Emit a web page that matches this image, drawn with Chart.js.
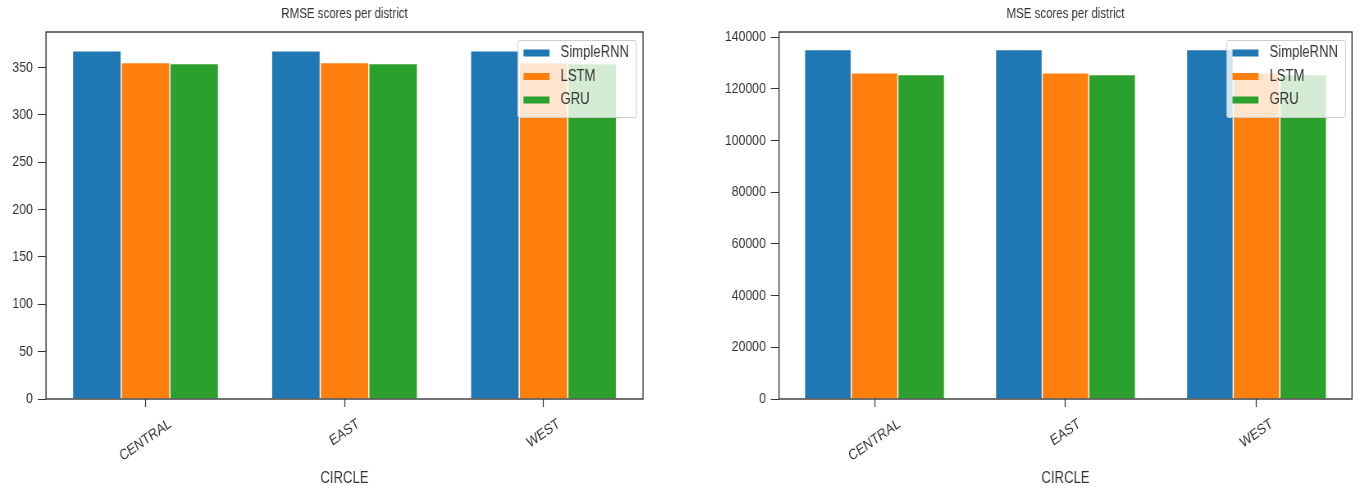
<!DOCTYPE html>
<html>
<head>
<meta charset="utf-8">
<script src="https://cdn.jsdelivr.net/npm/chart.js@4.4.1/dist/chart.umd.min.js"></script>
<style>
  html, body { margin: 0; padding: 0; background: #fff; }
  body { width: 1363px; height: 490px; position: relative; overflow: hidden; }
  /* figures are drawn wide and squeezed horizontally, giving the narrow lettering */
  canvas { position: absolute; top: 0; transform-origin: 0 0; transform: scaleX(0.82); }
  #rmseChart { left: 0; }
  #mseChart { left: 690px; }
</style>
</head>
<body>
<canvas id="rmseChart" width="842" height="490"></canvas>
<canvas id="mseChart" width="821" height="490"></canvas>
<script>
const SX = 0.82;

const districts = ['CENTRAL', 'EAST', 'WEST'];
const models = ['SimpleRNN', 'LSTM', 'GRU'];
const modelColors = ['#1f77b4', '#ff7f0e', '#2ca02c'];

// scores per district, one array per model
const rmseSimpleRNN = [367.7, 367.7, 367.7];
const rmseLSTM = [355.2, 355.2, 355.2];
const rmseGRU = [354.3, 354.3, 354.3];

const mseSimpleRNN = [135203, 135203, 135203];
const mseLSTM = [126167, 126167, 126167];
const mseGRU = [125529, 125529, 125529];

const rmseTicks = [0, 50, 100, 150, 200, 250, 300, 350];
const mseTicks = [0, 20000, 40000, 60000, 80000, 100000, 120000, 140000];

const FONT = "'Liberation Sans', Arial, sans-serif";
const INK = '#333333';

// box around the plot + title + rotated district names
const framePlugin = {
  id: 'framePlugin',
  afterDatasetsDraw(chart) {
    const { ctx, chartArea: a } = chart;
    ctx.save();
    ctx.strokeStyle = '#262626';
    ctx.lineWidth = 1.3;
    ctx.strokeRect(a.left, a.top, a.right - a.left, a.bottom - a.top);
    ctx.restore();
  },
  afterDraw(chart, args, opts) {
    const { ctx, chartArea: a } = chart;
    const xScale = chart.scales.x;
    ctx.save();
    ctx.fillStyle = INK;
    ctx.textAlign = 'center';
    ctx.textBaseline = 'middle';
    ctx.font = '14px ' + FONT;
    ctx.fillText(opts.title, (a.left + a.right) / 2, 14);

    ctx.font = '15px ' + FONT;
    chart.data.labels.forEach((lab, i) => {
      const x = xScale.getPixelForTick(i);
      const w = ctx.measureText(lab).width;
      const h = 11;
      const ang = Math.PI / 6;
      const boxH = w * Math.sin(ang) + h * Math.cos(ang);
      ctx.save();
      ctx.translate(x, 418 + boxH / 2);
      ctx.rotate(-ang);
      ctx.fillText(lab, 0, 0);
      ctx.restore();
    });
    ctx.restore();
  }
};

// legend drawn inside the plot, upper right
const innerLegend = {
  id: 'innerLegend',
  afterDatasetsDraw(chart) {
    const { ctx, chartArea: a } = chart;
    const sets = chart.data.datasets;
    ctx.save();
    ctx.font = '16px ' + FONT;
    const textW = Math.max(...sets.map(d => ctx.measureText(d.label).width));
    const pad = 6 / SX, sw = 26 / SX, gap = 11 / SX;
    const w = pad + sw + gap + textW + 7 / SX;
    const h = 77;
    const x = a.right - 7 / SX - w;
    const y = a.top + 8;
    ctx.fillStyle = 'rgba(255,255,255,0.8)';
    ctx.strokeStyle = '#cccccc';
    ctx.lineWidth = 1;
    ctx.beginPath();
    ctx.roundRect(x + 0.5, y + 0.5, w, h, 2);
    ctx.fill();
    ctx.stroke();
    ctx.textBaseline = 'middle';
    ctx.textAlign = 'left';
    sets.forEach((d, i) => {
      const cy = y + 13 + i * 23.5;
      ctx.fillStyle = d.backgroundColor;
      ctx.fillRect(x + pad, cy - 3.5, sw, 7);
      ctx.fillStyle = INK;
      ctx.fillText(d.label, x + pad + sw + gap, cy);
    });
    ctx.restore();
  }
};

const buildChart = (canvasId, title, series, tickValues, yMax, axisWidth, padRight) => {
  const ctx = document.getElementById(canvasId).getContext('2d');
  return new Chart(ctx, {
    type: 'bar',
    data: {
      labels: districts,
      datasets: models.map((m, i) => ({
        label: m,
        data: series[i],
        backgroundColor: modelColors[i],
        borderColor: 'rgba(255,255,255,0.9)',
        borderWidth: 0.7,
        borderSkipped: 'start',
        categoryPercentage: 0.733,
        barPercentage: 1.0,
      })),
    },
    options: {
      responsive: false,
      animation: false,
      devicePixelRatio: 1,
      layout: { padding: { top: 32, right: padRight, bottom: 0, left: 0 } },
      plugins: {
        legend: { display: false },
        tooltip: { enabled: false },
        framePlugin: { title },
      },
      scales: {
        x: {
          grid: { display: true, drawOnChartArea: false, drawTicks: true, tickLength: 8, tickColor: INK, tickWidth: 1.2, offset: false },
          border: { display: false },
          ticks: { display: false },
          title: {
            display: true,
            text: 'CIRCLE',
            color: INK,
            font: { family: FONT, size: 16 },
            padding: { top: 0, bottom: 2 },
          },
          afterFit: (scale) => { scale.height = 91; },
        },
        y: {
          min: 0,
          max: yMax,
          grid: { display: true, drawOnChartArea: false, drawTicks: true, tickLength: 10, tickColor: INK },
          border: { display: false },
          ticks: {
            color: INK,
            padding: 6,
            font: { family: FONT, size: 15 },
            callback: (v) => String(v),
          },
          afterBuildTicks: (scale) => { scale.ticks = tickValues.map(v => ({ value: v })); },
          afterFit: (scale) => { scale.width = axisWidth; },
        },
      },
    },
    plugins: [framePlugin, innerLegend],
  });
};

// canvas units: horizontal sizes are divided by SX
buildChart('rmseChart', 'RMSE scores per district',
  [rmseSimpleRNN, rmseLSTM, rmseGRU], rmseTicks, 387.5, 46 / SX, 842 - 643 / SX);
buildChart('mseChart', 'MSE scores per district',
  [mseSimpleRNN, mseLSTM, mseGRU], mseTicks, 142000, 89 / SX, 821 - 662 / SX);
</script>
</body>
</html>
